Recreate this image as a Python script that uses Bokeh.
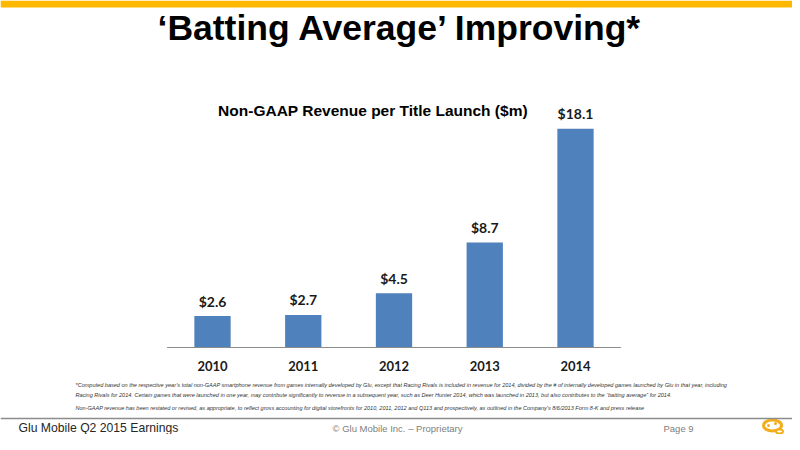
from bokeh.plotting import figure
from bokeh.models import ColumnDataSource, Label, LabelSet, Span, BoxAnnotation, Range1d
from bokeh.core.properties import value
from bokeh.embed import file_html
from bokeh.resources import INLINE

# ---- data ----
years = ["2010", "2011", "2012", "2013", "2014"]
values = [2.6, 2.7, 4.5, 8.7, 18.1]
value_labels = ["$2.6", "$2.7", "$4.5", "$8.7", "$18.1"]

page_title = "\u2018Batting Average\u2019 Improving*"
chart_title = "Non-GAAP Revenue per Title Launch ($m)"
footnotes = [
    "*Computed based on the respective year\u2019s total non-GAAP smartphone revenue from games internally developed by Glu, except that Racing Rivals is included in revenue for 2014, divided by the # of internally developed games launched by Glu in that year, including",
    "Racing Rivals for 2014.  Certain games that were launched in one year, may contribute significantly to revenue in a subsequent year, such as Deer Hunter 2014, which was launched in 2013, but also contributes to the \u201cbatting average\u201d for 2014.",
    "Non-GAAP revenue has been restated or revised, as appropriate, to reflect gross accounting for digital storefronts for 2010, 2011, 2012  and Q113 and prospectively, as outlined in the Company\u2019s 8/6/2013 Form 8-K and press release",
]
footer_left = "Glu Mobile Q2 2015 Earnings"
footer_mid = "\u00a9 Glu Mobile Inc. \u2013 Proprietary"
footer_right = "Page 9"

# ---- layout geometry (figure pixels) ----
W, H = 792, 434
PX_X, X0 = 90.75, 212.0     # pixels per category, x pixel of first category centre
PX_Y, Y0 = 12.08, 87.0      # pixels per $m, baseline distance from bottom


def dx(px):
    return (px - X0) / PX_X


def dy(py_from_top):
    return ((H - py_from_top) - Y0) / PX_Y


p = figure(width=W, height=H, output_backend="svg", toolbar_location=None,
           title=None, x_axis_location=None, y_axis_location=None,
           x_range=Range1d(dx(0), dx(W)), y_range=Range1d(dy(H), dy(0)),
           min_border=0, tools="")
p.outline_line_color = None
p.xgrid.visible = False
p.ygrid.visible = False
p.background_fill_color = "white"
p.border_fill_color = "white"

n = len(years)
src = ColumnDataSource(dict(x=list(range(n)), year=years, value=values,
                            vlabel=value_labels, base=[0] * n))

# bars
p.vbar(x="x", top="value", width=0.4, source=src, fill_color="#4F81BD", line_color=None)

# baseline (category axis line)
p.segment(x0=[-0.5], x1=[n - 0.5], y0=[0], y1=[0], line_color="#8C8C8C", line_width=1.2)

LABEL_FONT = "Lato"
# value labels
p.add_layout(LabelSet(x="x", y="value", text="vlabel", source=src, y_offset=15,
                      text_align="center", text_baseline="middle",
                      text_font=value(LABEL_FONT), text_font_style="bold",
                      text_font_size=value("14px"), text_color="#1a1a1a"))
# year labels
p.add_layout(LabelSet(x="x", y="base", text="year", source=src, y_offset=-18,
                      text_align="center", text_baseline="middle",
                      text_font=value(LABEL_FONT), text_font_style="bold",
                      text_font_size=value("13px"), text_color="#1a1a1a"))

# top gold band
p.add_layout(BoxAnnotation(bottom=dy(7), top=dy(0), fill_color="#FFB800", fill_alpha=1,
                           line_color=None))

# page title
p.add_layout(Label(x=dx(400), y=dy(27), text=page_title, text_align="center",
                   text_baseline="middle", text_font="Liberation Sans",
                   text_font_style="bold", text_font_size="35.5px", text_color="#000000"))

# chart title
p.add_layout(Label(x=dx(372.5), y=dy(110), text=chart_title, text_align="center",
                   text_baseline="middle", text_font="Liberation Sans",
                   text_font_style="bold", text_font_size="15.5px", text_color="#000000"))

# footnotes
for txt, ypos in zip(footnotes, [384, 394, 407]):
    p.add_layout(Label(x=dx(75), y=dy(ypos), text=txt, text_align="left",
                       text_baseline="middle", text_font="Liberation Sans",
                       text_font_style="italic", text_font_size="5.55px",
                       text_color="#333333"))

# footer line
p.add_layout(Span(location=dy(418), dimension="width", line_color="#8C8C8C",
                  line_width=1.5))

# footer texts
p.add_layout(Label(x=dx(18), y=dy(427), text=footer_left, text_align="left",
                   text_baseline="middle", text_font="Liberation Sans",
                   text_font_size="12.2px", text_color="#262626"))
p.add_layout(Label(x=dx(397), y=dy(428), text=footer_mid, text_align="center",
                   text_baseline="middle", text_font="Liberation Sans",
                   text_font_size="9.5px", text_color="#808080"))
p.add_layout(Label(x=dx(663), y=dy(428), text=footer_right, text_align="left",
                   text_baseline="middle", text_font="Liberation Sans",
                   text_font_size="9.5px", text_color="#808080"))

# logo (decorative)
p.ellipse(x=[dx(772)], y=[dy(425)], width=[18], height=[11], width_units="screen",
          height_units="screen", fill_color="white", line_color="#F2AE1C", line_width=3)
p.ellipse(x=[dx(779)], y=[dy(431)], width=[7], height=[4], width_units="screen",
          height_units="screen", fill_color="white", line_color="#F2AE1C", line_width=2)
p.scatter(x=[dx(768), dx(775)], y=[dy(425), dy(423)], size=3, marker="circle",
          fill_color="#F2AE1C", line_color=None)

open("out.html", "w").write(file_html(p, INLINE))
